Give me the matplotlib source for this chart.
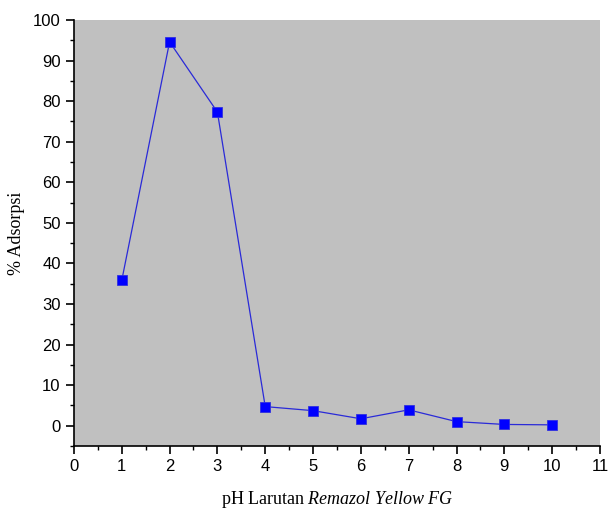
import matplotlib
matplotlib.use("Agg")
import matplotlib.pyplot as plt
from matplotlib.ticker import MultipleLocator

# pH vs % adsorpsi
ph = [1, 2, 3, 4, 5, 6, 7, 8, 9, 10]
adsorpsi = [35.8, 94.6, 77.3, 4.7, 3.7, 1.7, 3.9, 1.0, 0.3, 0.2]

plt.rcParams['mathtext.fontset'] = 'custom'
plt.rcParams['mathtext.rm'] = 'Liberation Serif'
plt.rcParams['mathtext.it'] = 'Liberation Serif:italic'

fig = plt.figure(figsize=(6.11, 5.12), dpi=100)
ax = fig.add_axes([0.121, 0.129, 0.861, 0.832])
ax.set_facecolor('#c0c0c0')

ax.plot(ph, adsorpsi, color='#2a2ad8', linewidth=0.9,
        marker='s', markersize=7.5, markerfacecolor='#0000ff',
        markeredgecolor='#3030e0', markeredgewidth=0.6)

ax.set_xlim(0, 11)
ax.set_ylim(-5, 100)
ax.xaxis.set_major_locator(MultipleLocator(1))
ax.xaxis.set_minor_locator(MultipleLocator(0.5))
ax.yaxis.set_major_locator(MultipleLocator(10))
ax.yaxis.set_minor_locator(MultipleLocator(5))

for s in ['top', 'right']:
    ax.spines[s].set_visible(False)
for s in ['left', 'bottom']:
    ax.spines[s].set_linewidth(1.2)

ax.tick_params(which='major', direction='out', length=6, width=1.2, labelsize=12)
ax.tick_params(which='minor', direction='out', length=3, width=1.0)
for lab in ax.get_xticklabels() + ax.get_yticklabels():
    lab.set_fontfamily('Liberation Sans')

ax.set_ylabel('% Adsorpsi', fontfamily='Liberation Serif', fontsize=13, labelpad=6)
ax.set_xlabel('pH Larutan $\\mathit{Remazol\\ Yellow\\ FG}$', fontfamily='Liberation Serif',
              fontsize=13, labelpad=11)

plt.savefig("out.png")
